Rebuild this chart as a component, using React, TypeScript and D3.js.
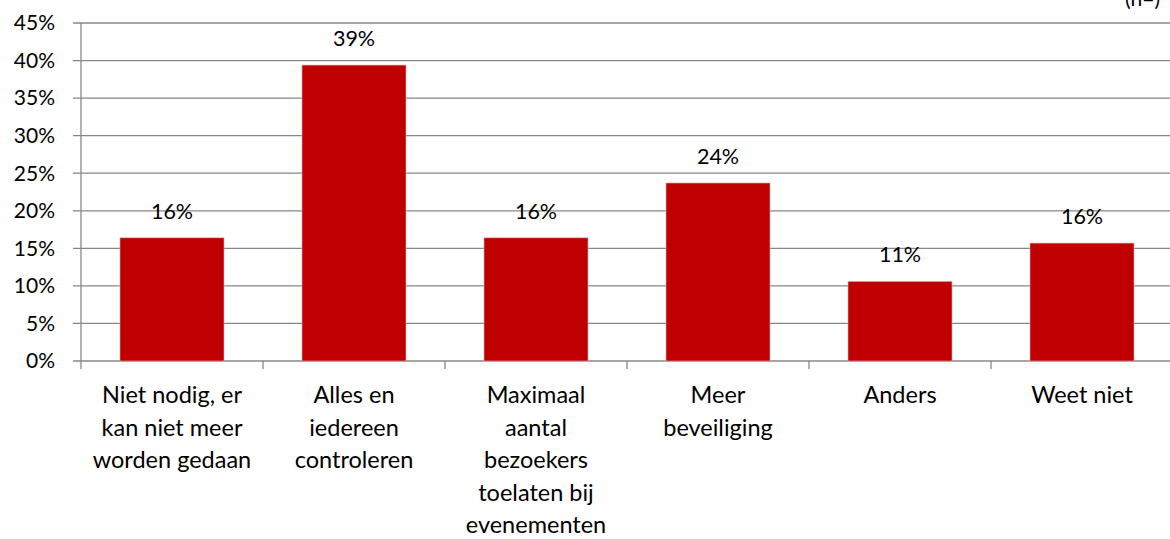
import React from 'react';
import { scaleBand, scaleLinear } from 'd3';

const categories = [
  'Niet nodig, er kan niet meer worden gedaan',
  'Alles en iedereen controleren',
  'Maximaal aantal bezoekers toelaten bij evenementen',
  'Meer beveiliging',
  'Anders',
  'Weet niet',
];
// line breaks as they appear under the axis
const categoryLines = [
  ['Niet nodig, er', 'kan niet meer', 'worden gedaan'],
  ['Alles en', 'iedereen', 'controleren'],
  ['Maximaal', 'aantal', 'bezoekers', 'toelaten bij', 'evenementen'],
  ['Meer', 'beveiliging'],
  ['Anders'],
  ['Weet niet'],
];
const values = [0.164, 0.394, 0.164, 0.237, 0.106, 0.157];
const valueLabels = ['16%', '39%', '16%', '24%', '11%', '16%'];
const yTicks = [0, 0.05, 0.1, 0.15, 0.2, 0.25, 0.3, 0.35, 0.4, 0.45];

const width = 1170;
const height = 539;
const margin = { top: 23, left: 81, bottom: 178 };
const plotRight = 1173;
const font = 'Lato, "Open Sans", sans-serif';

export default function App() {
  const x = scaleBand<string>()
    .domain(categories)
    .range([margin.left, plotRight])
    .paddingInner(0.4286)
    .paddingOuter(0.2143);
  const y = scaleLinear().domain([0, 0.45]).range([height - margin.bottom, margin.top]);
  const step = x.step();
  const mid = (c: string) => (x(c) ?? 0) + x.bandwidth() / 2;

  return (
    <svg
      width={width}
      height={height}
      style={{ position: 'absolute', left: 0, top: 0, background: '#fff' }}
      fontFamily={font}
      fontSize={21}
    >
      {/* gridlines and y ticks */}
      {yTicks.map(t => (
        <g key={t}>
          <line x1={73} x2={plotRight} y1={y(t)} y2={y(t)} stroke="#878787" strokeWidth={1.3} />
          <text x={55} y={y(t)} dy="0.35em" textAnchor="end" fill="#000">
            {Math.round(t * 100)}%
          </text>
        </g>
      ))}
      {/* y axis */}
      <line x1={margin.left} x2={margin.left} y1={y(0.45)} y2={y(0) + 8} stroke="#878787" strokeWidth={1.3} />
      {/* category ticks */}
      {categories.map((c, i) => (
        <line
          key={c}
          x1={margin.left + step * (i + 1)}
          x2={margin.left + step * (i + 1)}
          y1={y(0)}
          y2={y(0) + 8}
          stroke="#878787"
          strokeWidth={1.3}
        />
      ))}
      {/* bars */}
      {categories.map((c, i) => (
        <rect
          key={c}
          x={x(c)}
          y={y(values[i])}
          width={x.bandwidth()}
          height={y(0) - y(values[i])}
          fill="#C00000"
          stroke="#e8b0b0"
          strokeWidth={0.6}
        />
      ))}
      {/* value labels */}
      {categories.map((c, i) => (
        <text key={c} x={mid(c)} y={y(values[i]) - 19} textAnchor="middle" fill="#000" fontSize={21.5}>
          {valueLabels[i]}
        </text>
      ))}
      {/* category labels */}
      {categories.map((c, i) => (
        <text key={c} x={mid(c)} y={403} textAnchor="middle" fill="#000" fontSize={23.5}>
          {categoryLines[i].map((l, j) => (
            <tspan key={j} x={mid(c)} dy={j === 0 ? 0 : 32.5}>
              {l}
            </tspan>
          ))}
        </text>
      ))}
      {/* sample size note, cut off at the top */}
      <text x={1160} y={6} textAnchor="end" fill="#000">(n=)</text>
    </svg>
  );
}
